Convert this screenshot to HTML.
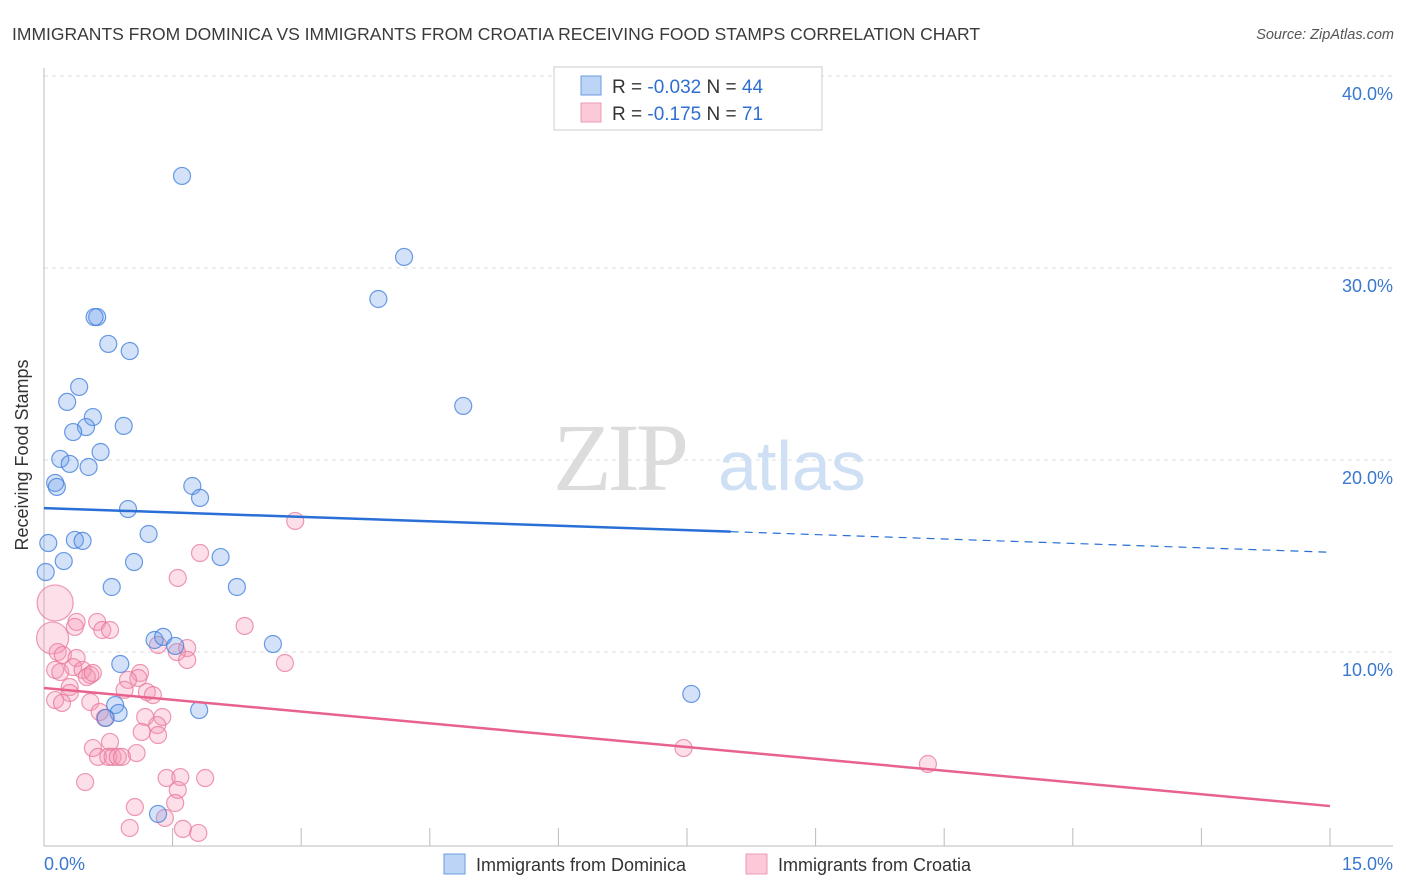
<!DOCTYPE html>
<html><head><meta charset="utf-8"><style>
body{margin:0;background:#fff;font-family:"Liberation Sans",sans-serif;}
svg{display:block}
</style></head><body>
<svg width="1406" height="892" viewBox="0 0 1406 892">
<text x="12" y="40" font-size="17.5" fill="#3a3a3a">IMMIGRANTS FROM DOMINICA VS IMMIGRANTS FROM CROATIA RECEIVING FOOD STAMPS CORRELATION CHART</text>
<text x="1394" y="39" font-size="14.5" fill="#555" text-anchor="end" font-style="italic">Source: ZipAtlas.com</text>
<g id="grid"></g>
<g><text x="553" y="490" font-size="96" fill="#dcdcdc" font-family="Liberation Serif,serif" letter-spacing="-4">ZIP</text><text x="718" y="490" font-size="70" fill="#cfe0f5">atlas</text></g>
<g id="axes"></g>
<g id="pts"></g>
<g id="trends"></g>
<text x="28" y="455" font-size="18" fill="#333" text-anchor="middle" transform="rotate(-90 28 455)">Receiving Food Stamps</text>
<g>
<rect x="554" y="67" width="268" height="63" fill="#fff" stroke="#ccc"/>
<rect x="581" y="76" width="20" height="19" fill="#bcd4f5" stroke="#6b9be0"/>
<rect x="581" y="103" width="20" height="19" fill="#fbc9d8" stroke="#ec9ab4"/>
<text x="612" y="93" font-size="19" fill="#333">R = <tspan fill="#2f6fd0">-0.032</tspan>   N = <tspan fill="#2f6fd0">44</tspan></text>
<text x="612" y="120" font-size="19" fill="#333">R =  <tspan fill="#2f6fd0">-0.175</tspan>   N =  <tspan fill="#2f6fd0">71</tspan></text>
</g>
<g>
<rect x="444" y="854" width="21" height="20" fill="#bcd4f5" stroke="#6b9be0"/>
<text x="476" y="871" font-size="18" fill="#333">Immigrants from Dominica</text>
<rect x="746" y="854" width="21" height="20" fill="#fbc9d8" stroke="#ec9ab4"/>
<text x="778" y="871" font-size="18" fill="#333">Immigrants from Croatia</text>
</g>
</svg>
<script>
const blueX=[1.61,4.20,3.90,0.62,0.59,0.75,1.00,0.41,0.27,0.57,0.49,0.93,0.34,0.66,0.19,0.30,0.52,0.13,0.15,1.73,1.82,0.98,4.89,1.22,0.05,0.36,0.45,0.23,1.05,2.06,0.79,2.25,0.02,1.29,1.39,1.53,2.67,0.89,7.55,0.83,1.81,0.87,0.72,1.33];
const blueY=[34.9,30.68,28.49,27.55,27.55,26.15,25.78,23.91,23.13,22.34,21.82,21.88,21.56,20.52,20.16,19.90,19.74,18.91,18.70,18.75,18.13,17.55,22.92,16.25,15.78,15.94,15.89,14.84,14.79,15.05,13.49,13.49,14.27,10.73,10.89,10.42,10.52,9.48,7.92,7.34,7.08,6.93,6.67,1.67];
const pinkX=[2.93,1.82,1.56,2.34,2.81,0.13,0.10,0.38,0.36,0.62,0.68,0.77,1.67,1.55,1.67,1.33,0.16,0.22,0.38,0.13,0.19,0.34,0.45,0.54,0.50,0.57,1.12,1.10,0.98,0.94,0.30,0.30,0.13,0.21,1.20,1.27,0.54,0.65,0.71,1.18,1.38,1.32,1.14,1.33,0.77,0.57,0.63,0.75,0.80,0.86,0.91,1.08,0.48,1.43,1.59,1.88,1.56,1.53,1.06,1.41,1.00,1.62,1.80,7.46,10.31];
const pinkY=[16.93,15.26,13.96,11.46,9.53,12.66,10.83,11.67,11.41,11.67,11.25,11.25,10.31,10.10,9.69,10.47,10.10,9.95,9.79,9.17,9.06,9.32,9.17,8.91,8.80,9.01,9.01,8.75,8.65,8.13,8.28,7.97,7.60,7.45,8.02,7.86,7.50,6.98,6.67,6.72,6.72,6.30,5.94,5.78,5.42,5.10,4.64,4.64,4.64,4.64,4.64,4.84,3.33,3.54,3.59,3.54,2.92,2.24,2.03,1.46,0.94,0.89,0.68,5.10,4.27];
const pinkR=[8.5,8.5,8.5,8.5,8.5,18,16];
const blueTrend=[17.6,15.3]; const blueSolidEnd=8.01;
const pinkTrend=[8.23,2.08];
const yTicks=[10,20,30,40];
const yTickLabels=["10.0%","20.0%","30.0%","40.0%"];
const xTicks=[0,1.5,3,4.5,6,7.5,9,10.5,12,13.5,15];
const NS="http://www.w3.org/2000/svg";
const sx=v=>44+v/15*1286, sy=v=>846-v*19.2;
function mk(tag,attrs,parent){const e=document.createElementNS(NS,tag);for(const k in attrs)e.setAttribute(k,attrs[k]);document.getElementById(parent).appendChild(e);return e;}
yTicks.forEach((t,i)=>{
 const g=mk('line',{x1:44,x2:1393,y1:sy(t)-2,y2:sy(t)-2,stroke:'#ddd','stroke-dasharray':'4,4'},'grid');
 
 
 const l=mk('text',{x:1393,y:sy(t)+22,'font-size':18,fill:'#3a78d0','text-anchor':'end'},'grid');l.textContent=yTickLabels[i];
 
 
});
mk('line',{x1:44,x2:44,y1:68,y2:846,stroke:'#bbb'},'axes');
mk('line',{x1:44,x2:1393,y1:846,y2:846,stroke:'#bbb'},'axes');
xTicks.forEach(t=>{const e=mk('line',{x1:sx(t),x2:sx(t),y1:828,y2:846,stroke:'#bbb'},'axes');
 
 });
let a=mk('text',{x:44,y:870,'font-size':18,fill:'#3a78d0'},'axes');a.textContent='0.0%';


a=mk('text',{x:1393,y:870,'font-size':18,fill:'#3a78d0','text-anchor':'end'},'axes');a.textContent='15.0%';


pinkX.forEach((x,i)=>{const c=mk('circle',{cx:sx(x),cy:sy(pinkY[i]),r:pinkR[i]||8.5,fill:'rgba(244,150,180,0.3)',stroke:'rgba(232,120,155,0.75)','stroke-width':1.2},'pts');
 
 });
blueX.forEach((x,i)=>{const c=mk('circle',{cx:sx(x),cy:sy(blueY[i]),r:8.5,fill:'rgba(110,160,235,0.3)',stroke:'rgba(70,130,220,0.8)','stroke-width':1.2},'pts');
 
 });
const by=x=>blueTrend[0]+(blueTrend[1]-blueTrend[0])*x/15;
let t=mk('line',{x1:sx(0),y1:sy(blueTrend[0]),x2:sx(blueSolidEnd),y2:sy(by(blueSolidEnd)),stroke:'#2a6fd6','stroke-width':2.5},'trends');


t=mk('line',{x1:sx(blueSolidEnd),y1:sy(by(blueSolidEnd)),x2:sx(15),y2:sy(blueTrend[1]),stroke:'#2a6fd6','stroke-width':1.2,'stroke-dasharray':'8,6'},'trends');


t=mk('line',{x1:sx(0),y1:sy(pinkTrend[0]),x2:sx(15),y2:sy(pinkTrend[1]),stroke:'#e8628e','stroke-width':2.5},'trends');


</script>
</body></html>
